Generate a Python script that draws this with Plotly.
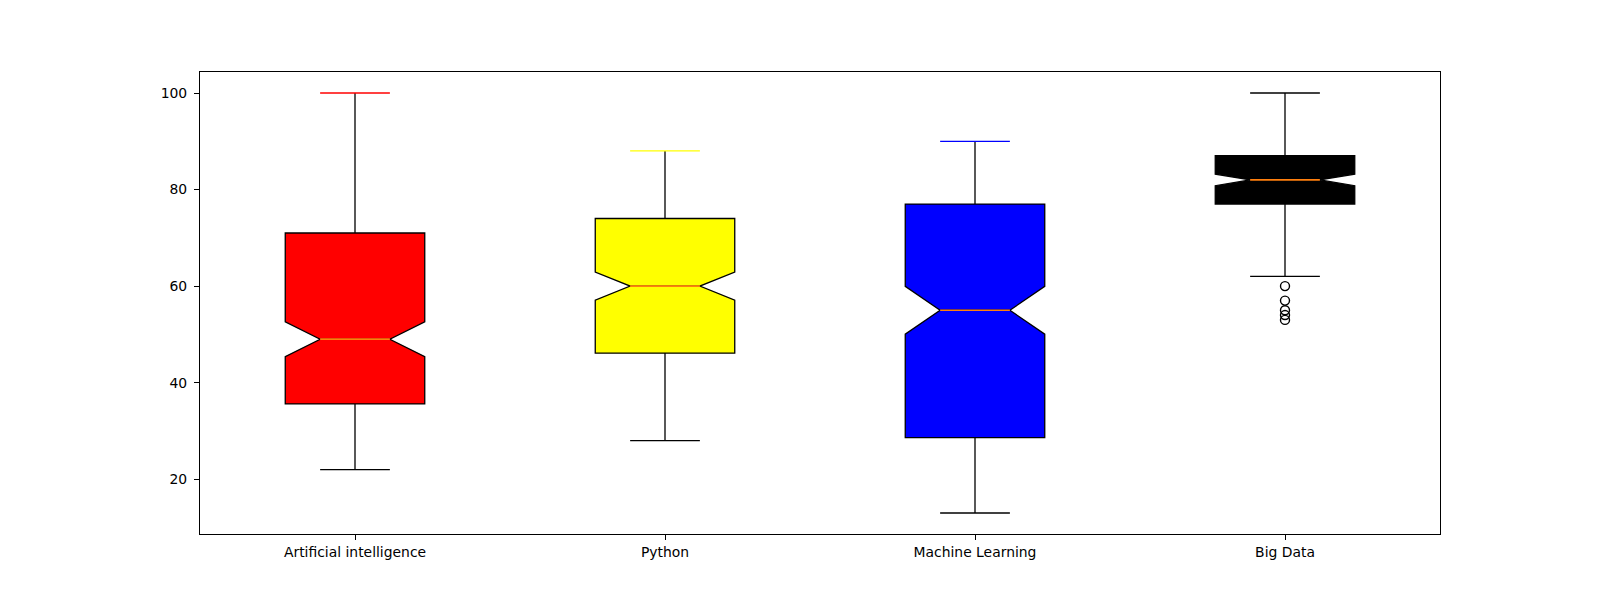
import plotly.graph_objects as go

categories = ["Artificial intelligence", "Python", "Machine Learning", "Big Data"]
q1_vals = [35.6, 46.1, 28.6, 77.0]
median_vals = [49.0, 60.0, 55.0, 82.0]
q3_vals = [71.0, 74.0, 77.0, 87.0]
lower_whisker = [22.0, 28.0, 13.0, 62.0]
upper_whisker = [100.0, 88.0, 90.0, 100.0]
notch_half = [3.6, 2.9, 4.95, 1.2]
box_colors = ["red", "yellow", "blue", "black"]
outlier_values = [[], [], [], [60, 57, 55, 54, 53]]

positions = list(range(1, len(categories) + 1))
box_width = 0.45
half_cap = box_width / 4

fig = go.Figure()

for i, cat in enumerate(categories):
    p = positions[i]
    fig.add_trace(go.Box(
        x=[p], q1=[q1_vals[i]], median=[median_vals[i]], q3=[q3_vals[i]],
        lowerfence=[lower_whisker[i]], upperfence=[upper_whisker[i]],
        notched=True, notchspan=[notch_half[i]], notchwidth=0.25,
        width=box_width, whiskerwidth=0,
        fillcolor=box_colors[i], line=dict(color="black", width=1.3),
        boxpoints=False, name=cat, showlegend=False, hoverinfo="skip",
    ))

for i, cat in enumerate(categories):
    p = positions[i]
    # black lower cap
    fig.add_trace(go.Scatter(
        x=[p - half_cap, p + half_cap], y=[lower_whisker[i], lower_whisker[i]],
        mode="lines", line=dict(color="black", width=1.3),
        showlegend=False, hoverinfo="skip",
    ))
    # colored upper cap
    fig.add_trace(go.Scatter(
        x=[p - half_cap, p + half_cap], y=[upper_whisker[i], upper_whisker[i]],
        mode="lines", line=dict(color=box_colors[i], width=1.3),
        showlegend=False, hoverinfo="skip",
    ))
    # orange median
    fig.add_trace(go.Scatter(
        x=[p - half_cap, p + half_cap], y=[median_vals[i], median_vals[i]],
        mode="lines", line=dict(color="#ff7f0e", width=1.7),
        showlegend=False, hoverinfo="skip",
    ))
    if outlier_values[i]:
        fig.add_trace(go.Scatter(
            x=[p] * len(outlier_values[i]), y=outlier_values[i],
            mode="markers",
            marker=dict(symbol="circle-open", size=9, color="black", line=dict(width=1.4)),
            showlegend=False, hoverinfo="skip",
        ))

data_min = min(lower_whisker + [v for o in outlier_values for v in o])
data_max = max(upper_whisker + [v for o in outlier_values for v in o])
pad = (data_max - data_min) * 0.05

axis_common = dict(
    showline=True, mirror=True, linecolor="black", linewidth=1.1,
    ticks="outside", ticklen=5, tickwidth=1.1, tickcolor="black",
    showgrid=False, zeroline=False,
    tickfont=dict(family="DejaVu Sans", size=13.9, color="black"),
)

fig.update_layout(
    width=1592, height=592,
    margin=dict(l=192, r=160, t=64, b=66),
    paper_bgcolor="white", plot_bgcolor="white",
    xaxis=dict(range=[0.5, len(categories) + 0.5], tickvals=positions, ticktext=categories,
               ticklabelstandoff=0, **axis_common),
    yaxis=dict(range=[data_min - pad, data_max + pad], tickvals=[20, 40, 60, 80, 100],
               ticklabelstandoff=4, **axis_common),
    font=dict(family="DejaVu Sans"),
)

fig.write_html("out.html")
